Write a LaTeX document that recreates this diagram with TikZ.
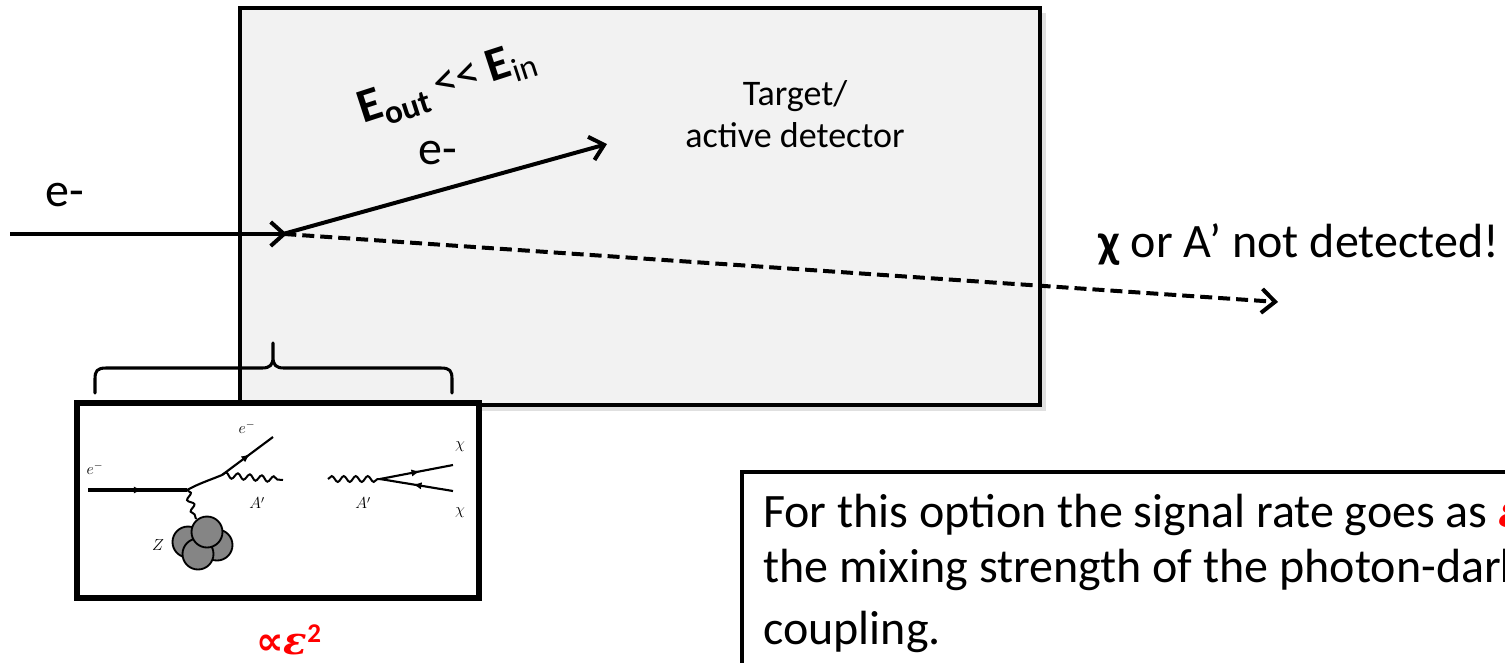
\documentclass[tikz,border=0pt]{standalone}
\usepackage{fontspec}
\setmainfont{Carlito}
\newfontfamily\symsans{DejaVu Sans}
\newfontfamily\greekserif{DejaVu Serif}
\usetikzlibrary{arrows.meta,decorations.pathmorphing,decorations.markings,fit}

\definecolor{panelgray}{HTML}{F2F2F2}
\definecolor{nucleus}{HTML}{858585}
\definecolor{hotred}{HTML}{FF0000}

\tikzset{
  beam/.style={line width=3pt, -{Straight Barb[length=10pt,width=18pt]}},
  missing/.style={beam, dash pattern=on 9pt off 4.5pt},
  biglbl/.style={font=\fontsize{36}{43}\selectfont, inner sep=0pt},
  flab/.style={font=\fontsize{12}{14}\selectfont, inner sep=0pt},
  fermion/.style={line width=1.6pt, postaction={decorate},
    decoration={markings, mark=at position 0.55 with {\arrow{Latex[length=6.5pt,width=5.5pt]}}}},
  photon/.style={line width=1.5pt, decorate,
    decoration={snake, segment length=9pt, amplitude=2.2pt}},
  frame/.style={draw, inner sep=0pt},
}

\begin{document}
\begin{tikzpicture}[x=0.75pt,y=-0.75pt]
\useasboundingbox (0,0) rectangle (1505,662);
\clip (0,0) rectangle (1505,662);

% target / active detector block with a soft drop shadow
\fill[black, opacity=0.12] (245,13) rectangle (1046,411);
\node (target) [frame, line width=3.2pt, fill=panelgray, fit={(240,8) (1040,405)}] {};
\node (tlabel) [font=\fontsize{27}{32}\selectfont, align=center] at (795,114) {Target/\\active detector};

% beam electron, scattered electron and invisible particle
\coordinate (src) at (10,234);
\coordinate (vtx) at (287,234);
\coordinate (eoutend) at (607,144);
\coordinate (darkend) at (1278,302);
\draw[missing] ([xshift=-2pt]vtx) -- (darkend);
\draw[beam] (src) -- (vtx);
\draw[beam] ([xshift=-3pt]vtx) -- (eoutend);

\node (ein) [biglbl, anchor=base west] at (45,206) {e-};
\node (escat) [biglbl, anchor=base west] at (418,164) {e-};
\node (energy) [inner sep=0pt, anchor=base west, rotate=18, font=\fontsize{36}{40}\selectfont]
  at (363,124) {\textbf{E}\raisebox{-7pt}{\fontsize{25}{28}\selectfont\bfseries out}\,<{}<\,\textbf{E}\raisebox{-6pt}{\fontsize{25}{28}\selectfont in}};
\node (dark) [biglbl, anchor=base west] at (1098,257) {\textbf{χ} or A’ not detected!};

% brace pointing at the interaction
\draw[line width=2.3pt, line cap=round, line join=round]
  (95,393) -- (95,379) .. controls (95,371) and (97,368) .. (106,368)
  -- (262,368) .. controls (270,368) and (273,365) .. (273,357) -- (273,343)
  (273,357) .. controls (273,365) and (276,368) .. (284,368)
  -- (441,368) .. controls (450,368) and (452,371) .. (452,379) -- (452,393);

% inset: production and decay diagrams
\node (inset) [frame, line width=3.8pt, fill=white, fit={(77,403) (479,598)}] {};
\coordinate (f0) at (88,490);
\coordinate (f1) at (187,490);
\coordinate (f2) at (222,475);
\coordinate (f3) at (273,437);
\coordinate (f4) at (283,480);
\coordinate (f5) at (196,519);
\draw[fermion, line width=3pt] (f0) -- (f1);
\draw[line width=1.6pt] (f1) .. controls (200,483) and (210,480) .. (f2);
\draw[fermion] (f2) -- (f3);
\draw[photon] (f2) -- (f4);
\draw[photon] (f1) -- (f5);
\foreach \c in {(188,542),(217,545),(198,554),(207,532)}
  \draw[fill=nucleus, line width=1.4pt] \c circle[radius=15.5];
\node[flab] (le1) at (95,468) {$e^-$};
\node[flab] (le2) at (247,427) {$e^-$};
\node[flab] (la1) at (257,503) {$A'$};
\node[flab] (lz) at (158,545) {$Z$};

\coordinate (g0) at (328,479);
\coordinate (g1) at (380,479);
\coordinate (g2) at (453,465);
\coordinate (g3) at (453,491);
\draw[photon] (g0) -- (g1);
\draw[fermion] (g1) -- (g2);
\draw[fermion] (g3) -- (g1);
\node[flab] (la2) at (363,503) {$A'$};
\node[flab] (lx1) at (460,447) {$\chi$};
\node[flab] (lx2) at (460,513) {$\chi$};

% coupling scaling
\node (scale) [text=hotred, font=\fontsize{29}{32}\selectfont\bfseries, inner sep=0pt] at (289,640)
  {{\symsans ∝}{\greekserif\itshape ε}\textsuperscript{2}};

% explanatory note
\node (note) [frame, line width=3.4pt, fill=white, fit={(742,472) (1560,720)}] {};
\node[biglbl, anchor=base west] (l1) at (763,527)
  {For this option the signal rate goes as {\color{hotred}\bfseries\greekserif\itshape ε}};
\node[biglbl, anchor=base west] (l2) at (763,582) {the mixing strength of the photon-dark};
\node[biglbl, anchor=base west] (l3) at (763,644) {coupling.};
\end{tikzpicture}
\end{document}
